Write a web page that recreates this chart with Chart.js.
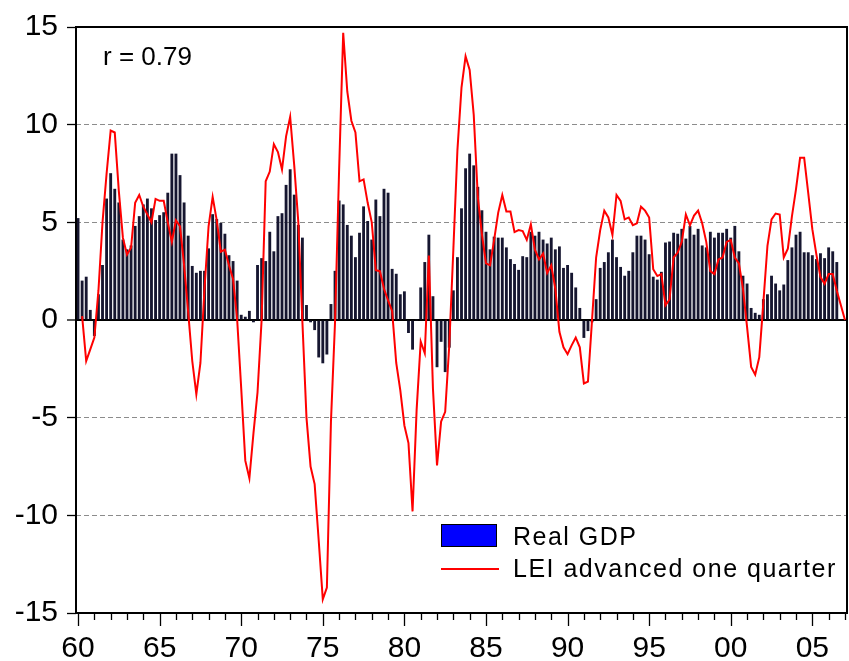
<!DOCTYPE html>
<html>
<head>
<meta charset="utf-8">
<script src="https://cdn.jsdelivr.net/npm/chart.js@4.4.1/dist/chart.umd.min.js"></script>
<style>
  html, body { margin: 0; padding: 0; background: #fff; }
  #wrap { width: 849px; height: 661px; }
</style>
</head>
<body>
<div id="wrap"><canvas id="chart" width="849" height="661"></canvas></div>
<script>
// quarters 1960Q1 .. 2007Q1
const quarters = [];
for (let y = 1960; y <= 2007; y++) {
    for (let q = 1; q <= 4; q++) {
        if (y === 2007 && q > 1) break;
        quarters.push(y + 'Q' + q);
    }
}
const tickYears = [1960, 1965, 1970, 1975, 1980, 1985, 1990, 1995, 2000, 2005];
const tickLabels = ['60', '65', '70', '75', '80', '85', '90', '95', '00', '05'];
const corrLabel = 'r = 0.79';

// Real GDP, y/y % change
const gdp = [
    5.2, 2.0, 2.2, 0.5, -0.8, 1.3, 2.8, 6.2, 7.5, 6.7,
    6.0, 4.1, 3.6, 3.8, 4.8, 5.3, 5.9, 6.2, 5.7, 5.1,
    5.35, 5.5, 6.5, 8.5, 8.5, 7.4, 6.0, 4.3, 2.75, 2.4,
    2.5, 2.5, 3.65, 5.4, 5.15, 4.95, 4.4, 3.3, 3.0, 2.0,
    0.25, 0.15, 0.45, -0.1, 2.8, 3.15, 3.0, 4.5, 3.5, 5.3,
    5.45, 6.9, 7.7, 6.4, 4.85, 4.2, 0.75, -0.1, -0.5, -1.9,
    -2.2, -1.75, 0.8, 2.5, 6.1, 5.9, 4.85, 4.3, 3.2, 4.45,
    5.8, 5.05, 4.1, 6.15, 5.3, 6.7, 6.5, 2.6, 2.35, 1.3,
    1.45, -0.65, -1.5, 0, 1.65, 2.95, 4.35, 1.2, -2.4, -1.1,
    -2.65, -1.4, 1.5, 3.2, 5.7, 7.75, 8.5, 7.9, 6.8, 5.6,
    4.5, 3.6, 4.25, 4.2, 4.2, 3.7, 3.1, 2.85, 2.55, 3.25,
    3.2, 4.5, 4.3, 4.5, 4.1, 3.9, 4.2, 3.6, 3.75, 2.65,
    2.8, 2.4, 1.65, 0.6, -0.9, -0.55, -0.1, 1.05, 2.65, 2.95,
    3.45, 4.1, 3.2, 2.7, 2.25, 2.5, 3.45, 4.3, 4.3, 4.1,
    3.35, 2.2, 2.05, 2.45, 3.95, 4.0, 4.45, 4.4, 4.65, 4.15,
    4.8, 4.35, 4.65, 3.8, 3.7, 4.5, 4.2, 4.45, 4.45, 4.65,
    4.2, 4.8, 3.5, 2.25, 1.85, 0.6, 0.35, 0.25, 1.05, 1.3,
    2.25, 1.85, 1.5, 1.8, 3.05, 3.7, 4.35, 4.5, 3.45, 3.45,
    3.3, 3.1, 3.4, 3.15, 3.7, 3.5, 2.95, null, null
];

// LEI, advanced one quarter
const lei = [
    null, 0.2, -2.1, -1.5, -0.9, 1.5, 5.0, 7.5, 9.7, 9.6,
    6.6, 4.2, 3.35, 3.7, 6.0, 6.4, 5.8, 5.4, 5.0, 6.2,
    6.1, 6.1, 5.0, 4.0, 5.1, 4.8, 2.8, 0.4, -2.1, -3.8,
    -2.2, 1.6, 4.8, 6.3, 5.1, 3.5, 3.6, 2.8, 2.1, 0.05,
    -3.5, -7.2, -8.1, -5.8, -3.7, 0.0, 7.1, 7.6, 9.0, 8.6,
    7.7, 9.4, 10.4, 7.9, 5.0, -0.1, -5.0, -7.5, -8.4, -11.3,
    -14.3, -13.7, -5.2, -0.1, 7.7, 14.7, 11.7, 10.2, 9.6, 7.1,
    7.2, 6.0, 5.0, 2.55, 2.5, 1.6, 1.0, 0.45, -2.2, -3.6,
    -5.4, -6.3, -9.8, -4.6, -1.1, -1.7, 3.3, -3.5, -7.45, -5.2,
    -4.7, -1.3, 3.6, 8.7, 11.9, 13.5, 12.8, 10.5, 6.3, 4.4,
    2.9, 2.8, 4.1, 5.5, 6.4, 5.55, 5.55, 4.5, 4.6, 4.55,
    4.1, 4.9, 3.6, 3.1, 3.4, 2.4, 2.8, 1.6, -0.6, -1.4,
    -1.75, -1.3, -0.9, -1.4, -3.25, -3.15, 0.0, 3.2, 4.6, 5.6,
    5.25, 4.35, 6.4, 6.1, 5.15, 5.25, 4.85, 4.95, 5.8, 5.6,
    5.25, 2.6, 2.25, 2.35, 0.75, 1.05, 3.2, 3.45, 4.0, 5.4,
    4.85, 5.35, 5.6, 4.95, 4.0, 2.5, 2.35, 3.1, 3.2, 4.0,
    4.1, 3.2, 2.9, 1.6, -0.35, -2.4, -2.8, -1.9, 0.9, 3.8,
    5.15, 5.45, 5.4, 3.2, 3.65, 5.3, 6.7, 8.3, 8.3, 6.5,
    4.65, 3.35, 2.2, 1.85, 2.35, 2.35, 1.5, 0.75, 0.0
];

const FONT = '"Liberation Sans", Arial, Helvetica, sans-serif';
const legendFill = '#0000FF';
Chart.defaults.font.family = FONT;
Chart.defaults.color = '#000';

// frame, year ticks, r label and legend box
const extras = {
    id: 'extras',
    afterDraw(chart) {
        const {ctx, chartArea: a, scales: {x}} = chart;
        const ds = chart.data.datasets;
        ctx.save();
        ctx.strokeStyle = '#000';
        ctx.lineWidth = 2;
        ctx.strokeRect(a.left, a.top, a.right - a.left, a.bottom - a.top);

        ctx.lineWidth = 1.3;
        quarters.forEach((q, i) => {
            if (!q.endsWith('Q1')) return;
            const yr = +q.slice(0, 4);
            const px = Math.round(x.getPixelForValue(i)) + 0.5;
            const len = tickYears.includes(yr) ? 13 : 7;
            ctx.beginPath();
            ctx.moveTo(px, a.bottom);
            ctx.lineTo(px, a.bottom + len);
            ctx.stroke();
        });

        ctx.fillStyle = '#000';
        ctx.textBaseline = 'alphabetic';
        ctx.textAlign = 'left';
        ctx.font = '26px ' + FONT;
        ctx.fillText(corrLabel, 103, 65);

        // legend
        ctx.font = '25px ' + FONT;
        if ('letterSpacing' in ctx) ctx.letterSpacing = '1.5px';
        ctx.fillStyle = legendFill;
        ctx.fillRect(441, 524, 56, 23);
        ctx.lineWidth = 1;
        ctx.strokeStyle = '#000';
        ctx.strokeRect(441.5, 524.5, 55, 22);
        ctx.fillStyle = '#000';
        ctx.fillText(ds[0].label, 513, 545);
        ctx.strokeStyle = ds[1].borderColor;
        ctx.lineWidth = 2;
        ctx.beginPath();
        ctx.moveTo(441, 569);
        ctx.lineTo(499, 569);
        ctx.stroke();
        ctx.fillText(ds[1].label, 513, 577);
        ctx.restore();
    }
};

new Chart(document.getElementById('chart'), {
    type: 'bar',
    data: {
        labels: quarters,
        datasets: [{
            label: 'Real GDP',
            data: gdp,
            backgroundColor: '#161630',
            borderWidth: 0,
            barThickness: 2.2,
            order: 1
        }, {
            type: 'line',
            label: 'LEI advanced one quarter',
            data: lei,
            borderColor: '#FF0000',
            borderWidth: 2,
            pointRadius: 0,
            tension: 0,
            fill: false,
            order: 0
        }]
    },
    options: {
        responsive: false,
        animation: false,
        devicePixelRatio: 1,
        layout: {padding: {top: 27, right: 2, left: 0, bottom: 0}},
        plugins: {legend: {display: false}, tooltip: {enabled: false}},
        scales: {
            x: {
                offset: true,
                grid: {display: false, drawTicks: false},
                border: {display: false},
                ticks: {
                    autoSkip: false, maxRotation: 0, minRotation: 0, padding: 18,
                    font: {size: 30},
                    callback: function(v, i) {
                        const q = quarters[i];
                        const k = tickYears.indexOf(+q.slice(0, 4));
                        return (q.endsWith('Q1') && k >= 0) ? tickLabels[k] : null;
                    }
                },
                afterFit: s => { s.height = 48; }
            },
            y: {
                min: -15, max: 15,
                ticks: {stepSize: 5, padding: 9, font: {size: 30}},
                grid: {
                    color: c => c.tick.value === 0 ? '#000' : (Math.abs(c.tick.value) === 15 ? 'rgba(0,0,0,0)' : '#8c8c8c'),
                    lineWidth: c => c.tick.value === 0 ? 2 : 1,
                    tickColor: '#000', tickLength: 9, tickWidth: 1.3
                },
                border: {display: false, dash: c => (c.tick && c.tick.value === 0) ? [] : [5, 3]},
                afterFit: s => { s.width = 76; }
            }
        }
    },
    plugins: [extras]
});
</script>
</body>
</html>
